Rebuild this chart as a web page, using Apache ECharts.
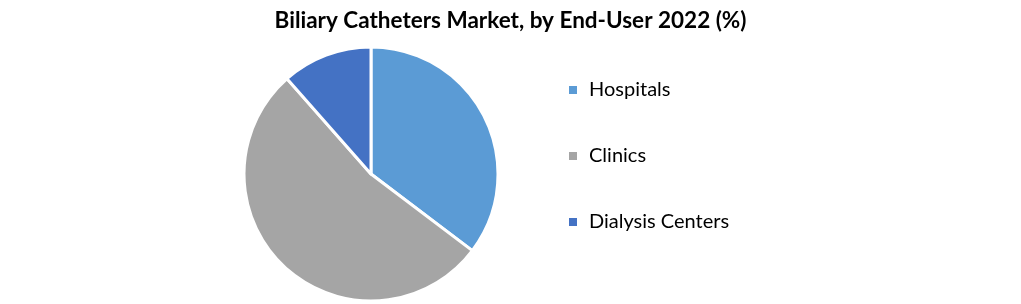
<!DOCTYPE html>
<html><head><meta charset="utf-8">
<script src="https://cdn.jsdelivr.net/npm/echarts@6/dist/echarts.min.js"></script>
<style>html,body{margin:0;padding:0;background:#fff}#c{width:1021px;height:304px}</style>
</head><body><div id="c"></div>
<script>
const categories = ["Hospitals", "Clinics", "Dialysis Centers"];
const values = [35.3, 53.2, 11.5];
const colors = ["#5B9BD5", "#A5A5A5", "#4472C4"];
const titleText = "Biliary Catheters Market, by End-User 2022 (%)";

const chart = echarts.init(document.getElementById('c'), null, {renderer: 'canvas'});
chart.setOption({
  animation: false,
  title: {
    text: titleText, left: 'center', top: 4,
    textStyle: {fontFamily: 'Lato', fontWeight: 'bold', fontSize: 22.5, color: '#000'}
  },
  legend: {
    orient: 'vertical', left: 562, top: 75, itemGap: 46,
    itemWidth: 10, itemHeight: 10, icon: 'rect',
    textStyle: {fontFamily: 'Lato', fontSize: 20, color: '#000', padding: [0,0,0,6]},
    data: categories
  },
  series: [{
    type: 'pie', center: [371, 174], radius: [0, 127],
    startAngle: 90, clockwise: true,
    label: {show: false}, labelLine: {show: false},
    itemStyle: {borderColor: '#fff', borderWidth: 3},
    emphasis: {disabled: true},
    data: categories.map((c, i) => ({name: c, value: values[i], itemStyle: {color: colors[i]}}))
  }]
});
</script></body></html>
